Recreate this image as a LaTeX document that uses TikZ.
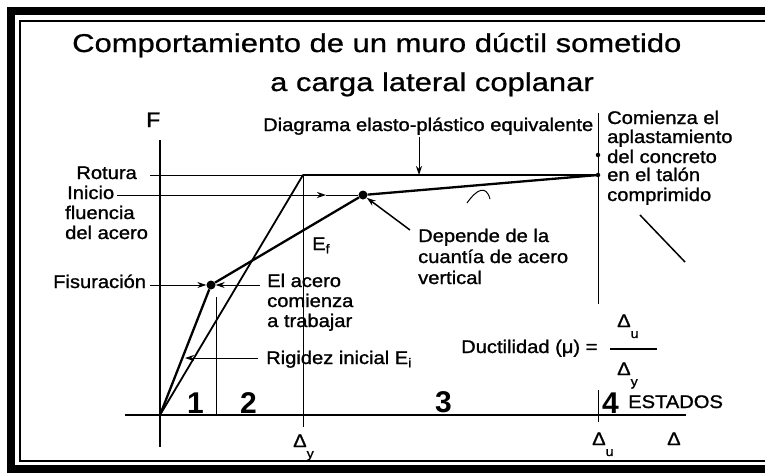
\documentclass[tikz,border=0pt]{standalone}
\usepackage{fontspec}
\setmainfont{Liberation Sans}[FakeStretch=1.1,FakeBold=1.2]
\newfontfamily\titlefont{Liberation Sans}[FakeStretch=1.2,FakeBold=0.8]
\newfontfamily\digitfont{Liberation Sans Bold}
\usetikzlibrary{arrows.meta}
\newcommand\lowsub[1]{\raisebox{-0.6em}{\fontsize{13}{13}\selectfont #1}}

\begin{document}
\begin{tikzpicture}[x=1pt,y=-1pt,>={Stealth[length=9pt,width=6pt]},thin]
  \tikzset{lbl/.style={anchor=base west, inner sep=0pt, font=\fontsize{18.3}{20}\selectfont},
           big/.style={lbl, font=\digitfont\fontsize{30}{32}\selectfont},
           ttl/.style={anchor=base west, inner sep=0pt, font=\titlefont\fontsize{25.8}{30}\selectfont},
           dot/.style={circle, fill, inner sep=0pt, minimum size=9pt},
           fine/.style={line width=1pt},
           heavy/.style={line width=2.3pt, line join=round}}
  \useasboundingbox (0,0) rectangle (765,472);
  \clip (0,0) rectangle (765,472);
  % marco
  \draw[line width=8pt] (11,11) rectangle (800,469);
  \draw[line width=1.2pt] (20,21) rectangle (800,461);
  % titulo
  \node[ttl] (t1) at (72,52) {Comportamiento de un muro dúctil sometido};
  \node[ttl] (t2) at (270,91) {a carga lateral coplanar};
  % ejes
  \coordinate (O) at (160,415);
  \coordinate (ejeF) at (160,140);
  \coordinate (ejeFb) at (160,447);
  \coordinate (ejeDa) at (125,415);
  \coordinate (ejeDb) at (686,415);
  \draw[line width=1.2pt] (ejeF) -- (ejeFb);
  \draw[line width=2pt] (ejeDa) -- (ejeDb);
  \node[lbl, font=\fontsize{21}{24}\selectfont] (F) at (146,127) {F};
  % puntos de la curva
  \coordinate (Y) at (303,175);
  \coordinate (U) at (598,175);
  \node[dot] (fis) at (211,285) {};
  \node[dot] (yld) at (363,195) {};
  % elasto-plastico y curva real
  \draw[line width=1.8pt, line join=round] (O) -- (Y) -- (U);
  \draw[heavy] (O) -- (fis) -- (yld) -- (U);
  % verticales
  \coordinate (dyb) at (303,427);
  \coordinate (d1) at (216,297);
  \coordinate (d1b) at (216,415);
  \coordinate (dut) at (598,113);
  \coordinate (dum) at (598,304);
  \coordinate (dun) at (598,390);
  \coordinate (dub) at (598,422);
  \draw[fine] (Y) -- (dyb);
  \draw[fine] (d1) -- (d1b);
  \draw[fine] (dut) -- (dum);
  \draw[fine] (dun) -- (dub);
  \node[dot, minimum size=4.5pt] (m1) at (598,155) {};
  \node[dot, minimum size=4.5pt] (m2) at (598,175) {};
  % etiquetas izquierda
  \node[lbl, anchor=base east] (rot) at (137,179) {Rotura};
  \coordinate (rotL) at (150,175);
  \draw[fine] (rotL) -- (Y);
  \foreach \t/\xx/\yy [count=\i] in {Inicio/67/199, fluencia/65/219, del acero/65/239}
    \node[lbl] (ini\i) at (\xx,\yy) {\t};
  \coordinate (iniL) at (117,195);
  \coordinate (iniTip) at (326,195);
  \draw[fine,->] (iniL) -- (iniTip);
  \draw[fine] (iniTip) -- (yld);
  \node[lbl] (fisl) at (53,288) {Fisuración};
  \coordinate (fisA) at (150,285);
  \draw[fine,->] (fisA) -- (fis);
  % etiquetas centro
  \foreach \t/\yy [count=\i] in {El acero/287, comienza/307, a trabajar/327}
    \node[lbl] (ac\i) at (267,\yy) {\t};
  \coordinate (acA) at (260,285);
  \draw[fine,->] (acA) -- (fis);
  \node[lbl] (ef) at (312,250) {E\textsubscript{f}};
  \node[lbl] (rig) at (266,364) {Rigidez inicial E\textsubscript{i}};
  \coordinate (rigA) at (258,358);
  \coordinate (rigB) at (185,358);
  \draw[fine,->] (rigA) -- (rigB);
  \node[lbl] (dia) at (263,131) {Diagrama elasto-plástico equivalente};
  \coordinate (diaA) at (419,137);
  \coordinate (diaB) at (419,175);
  \draw[fine,->] (diaA) -- (diaB);
  \foreach \t/\yy [count=\i] in {Depende de la/242, cuantía de acero/263, vertical/284}
    \node[lbl] (dep\i) at (418,\yy) {\t};
  \coordinate (depA) at (410,230);
  \draw[line width=1.5pt,->] (depA) -- (yld);
  \draw[fine] (467,203) .. controls (476,190) and (486,184) .. (490,199);
  % etiquetas derecha
  \foreach \t/\yy [count=\i] in {Comienza el/124, aplastamiento/143, del concreto/163, en el talón/181, comprimido/201}
    \node[lbl] (com\i) at (607,\yy) {\t};
  \coordinate (cmA) at (640,215);
  \coordinate (cmB) at (685,262);
  \draw[line width=1.5pt] (cmA) -- (cmB);
  % ductilidad
  \node[lbl] (duct) at (461,353) {Ductilidad (μ) =};
  \node[lbl] (num) at (617,327) {Δ\lowsub{u}};
  \node[lbl] (den) at (617,375) {Δ\lowsub{y}};
  \coordinate (fr1) at (610,349);
  \coordinate (fr2) at (657,349);
  \draw[line width=1.2pt] (fr1) -- (fr2);
  % estados
  \node[big] (s1) at (187,413) {1};
  \node[big] (s2) at (240,413) {2};
  \node[big] (s3) at (435,412) {3};
  \node[big] (s4) at (602,413) {4};
  \node[lbl] (est) at (628,408) {ESTADOS};
  \node[lbl] (dy) at (293,447) {Δ\lowsub{y}};
  \node[lbl] (du) at (592,445) {Δ\lowsub{u}};
  \node[lbl] (dd) at (667,445) {Δ};
\end{tikzpicture}
\end{document}
